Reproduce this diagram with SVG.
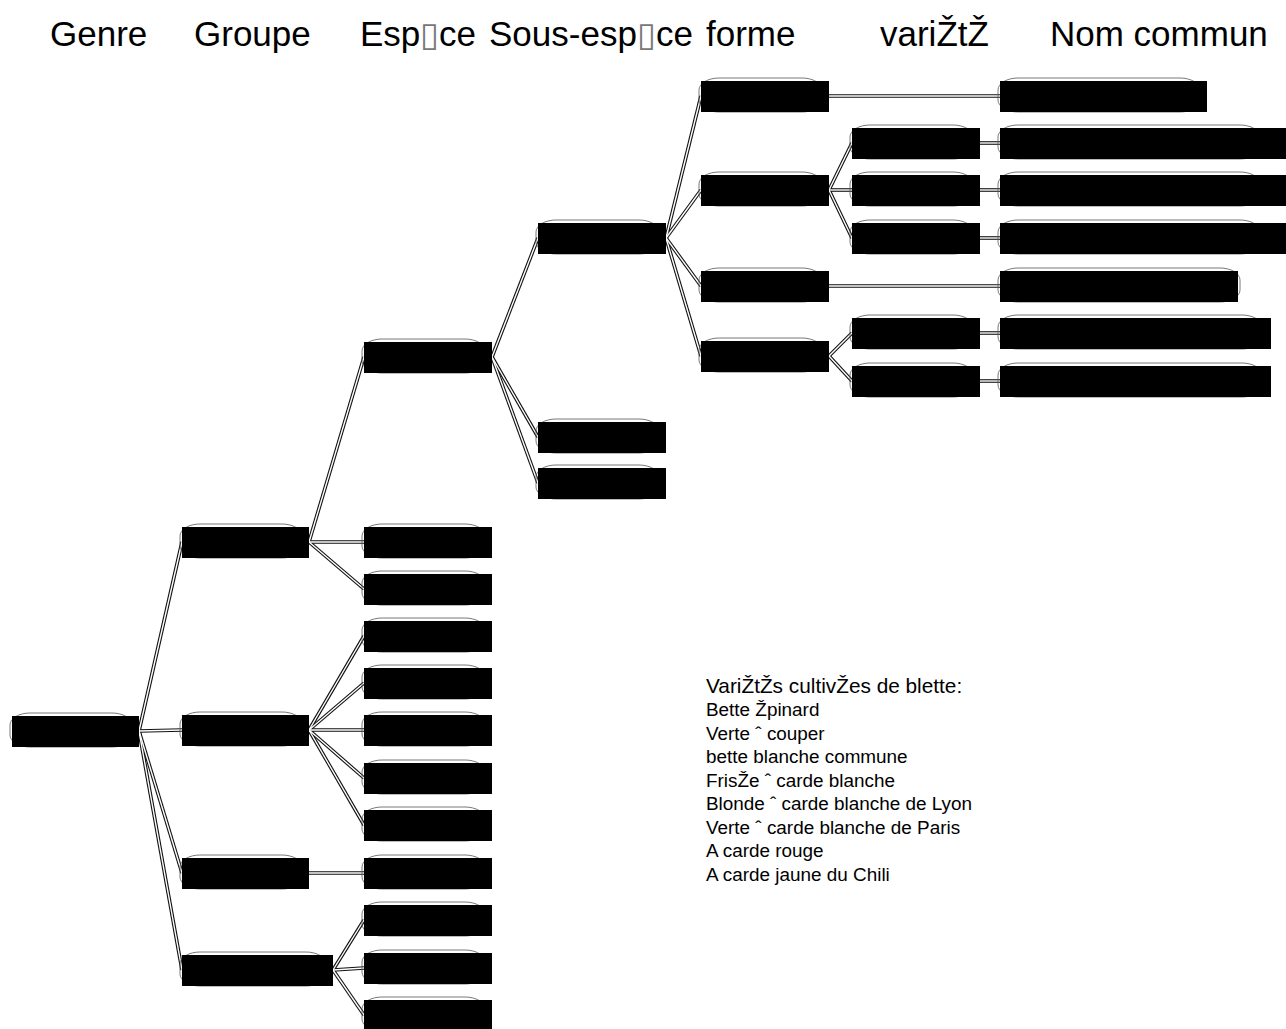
<svg xmlns="http://www.w3.org/2000/svg" xmlns:xlink="http://www.w3.org/1999/xlink" width="1286" height="1029" viewBox="0 0 1286 1029">
<style>
.hd{font-family:"Liberation Sans",Arial,"DejaVu Sans",sans-serif;font-size:35px;fill:#000}
.tofu{font-family:"DejaVu Sans",sans-serif;font-size:34px;fill:#777}
.t1{font-family:"Liberation Sans",Arial,sans-serif;font-size:20.8px;fill:#000}
.t2{font-family:"Liberation Sans",Arial,sans-serif;font-size:18.9px;fill:#000}
.ol{fill:none;stroke:#555;stroke-width:0.8}
.bx{fill:#000}
.co{fill:none;stroke:#111;stroke-width:3.6}
.ci{fill:none;stroke:#fff;stroke-width:1.4}
</style>
<rect width="1286" height="1029" fill="#fff"/>
<g id="header">
<text class="hd" x="50" y="46">Genre</text>
<text class="hd" x="194" y="46">Groupe</text>
<text class="hd" y="46"><tspan x="360">Esp</tspan><tspan class="tofu" x="420">▯</tspan><tspan x="439">ce</tspan></text>
<text class="hd" y="46"><tspan x="489">Sous-esp</tspan><tspan class="tofu" x="637">▯</tspan><tspan x="656">ce</tspan></text>
<text class="hd" x="706" y="46">forme</text>
<text class="hd" x="880" y="46">variŽtŽ</text>
<text class="hd" x="1050" y="46">Nom commun</text>
</g>
<defs>
<path id="c1" d="M139,731 L182,542"/>
<path id="c2" d="M139,731 L182,730"/>
<path id="c3" d="M139,731 L182,873"/>
<path id="c4" d="M139,731 L182,970"/>
<path id="c5" d="M309,542 L364,357"/>
<path id="c6" d="M309,542 L364,542"/>
<path id="c7" d="M309,542 L364,589"/>
<path id="c8" d="M309,730 L364,636"/>
<path id="c9" d="M309,730 L364,683"/>
<path id="c10" d="M309,730 L364,730"/>
<path id="c11" d="M309,730 L364,778"/>
<path id="c12" d="M309,730 L364,825"/>
<path id="c13" d="M309,873 L364,873"/>
<path id="c14" d="M333,970 L364,920"/>
<path id="c15" d="M333,970 L364,968"/>
<path id="c16" d="M333,970 L364,1015"/>
<path id="c17" d="M492,357 L538,238"/>
<path id="c18" d="M492,357 L538,437"/>
<path id="c19" d="M492,357 L538,483"/>
<path id="c20" d="M666,238 L701,96"/>
<path id="c21" d="M666,238 L701,190"/>
<path id="c22" d="M666,238 L701,286"/>
<path id="c23" d="M666,238 L701,356"/>
<path id="c24" d="M829,96 L1000,96"/>
<path id="c25" d="M829,190 L852,143"/>
<path id="c26" d="M829,190 L852,190"/>
<path id="c27" d="M829,190 L852,238"/>
<path id="c28" d="M829,286 L1000,286"/>
<path id="c29" d="M829,356 L852,333"/>
<path id="c30" d="M829,356 L852,381"/>
<path id="c31" d="M980,143 L1000,143"/>
<path id="c32" d="M980,190 L1000,190"/>
<path id="c33" d="M980,238 L1000,238"/>
<path id="c34" d="M980,333 L1000,333"/>
<path id="c35" d="M980,381 L1000,381"/>
</defs>
<g id="connectors">
<g class="co">
<use xlink:href="#c1"/><use xlink:href="#c2"/><use xlink:href="#c3"/><use xlink:href="#c4"/><use xlink:href="#c5"/><use xlink:href="#c6"/><use xlink:href="#c7"/><use xlink:href="#c8"/><use xlink:href="#c9"/><use xlink:href="#c10"/><use xlink:href="#c11"/><use xlink:href="#c12"/><use xlink:href="#c13"/><use xlink:href="#c14"/><use xlink:href="#c15"/><use xlink:href="#c16"/><use xlink:href="#c17"/><use xlink:href="#c18"/><use xlink:href="#c19"/><use xlink:href="#c20"/><use xlink:href="#c21"/><use xlink:href="#c22"/><use xlink:href="#c23"/><use xlink:href="#c24"/><use xlink:href="#c25"/><use xlink:href="#c26"/><use xlink:href="#c27"/><use xlink:href="#c28"/><use xlink:href="#c29"/><use xlink:href="#c30"/><use xlink:href="#c31"/><use xlink:href="#c32"/><use xlink:href="#c33"/><use xlink:href="#c34"/><use xlink:href="#c35"/>
</g>
<g class="ci">
<use xlink:href="#c1"/><use xlink:href="#c2"/><use xlink:href="#c3"/><use xlink:href="#c4"/><use xlink:href="#c5"/><use xlink:href="#c6"/><use xlink:href="#c7"/><use xlink:href="#c8"/><use xlink:href="#c9"/><use xlink:href="#c10"/><use xlink:href="#c11"/><use xlink:href="#c12"/><use xlink:href="#c13"/><use xlink:href="#c14"/><use xlink:href="#c15"/><use xlink:href="#c16"/><use xlink:href="#c17"/><use xlink:href="#c18"/><use xlink:href="#c19"/><use xlink:href="#c20"/><use xlink:href="#c21"/><use xlink:href="#c22"/><use xlink:href="#c23"/><use xlink:href="#c24"/><use xlink:href="#c25"/><use xlink:href="#c26"/><use xlink:href="#c27"/><use xlink:href="#c28"/><use xlink:href="#c29"/><use xlink:href="#c30"/><use xlink:href="#c31"/><use xlink:href="#c32"/><use xlink:href="#c33"/><use xlink:href="#c34"/><use xlink:href="#c35"/>
</g>
</g>
<g id="genre"><rect class="ol" x="10" y="713" width="122" height="34" rx="20" ry="12"/><rect class="bx" x="12" y="716" width="127" height="31"/></g>
<g id="groupe1"><rect class="ol" x="180" y="524" width="122" height="34" rx="20" ry="12"/><rect class="bx" x="182" y="527" width="127" height="31"/></g>
<g id="groupe2"><rect class="ol" x="180" y="712" width="122" height="34" rx="20" ry="12"/><rect class="bx" x="182" y="715" width="127" height="31"/></g>
<g id="groupe3"><rect class="ol" x="180" y="855" width="122" height="34" rx="20" ry="12"/><rect class="bx" x="182" y="858" width="127" height="31"/></g>
<g id="groupe4"><rect class="ol" x="180" y="952" width="146" height="34" rx="20" ry="12"/><rect class="bx" x="182" y="955" width="151" height="31"/></g>
<g id="espece1"><rect class="ol" x="362" y="339" width="123" height="34" rx="20" ry="12"/><rect class="bx" x="364" y="342" width="128" height="31"/></g>
<g id="espece2"><rect class="ol" x="362" y="524" width="123" height="34" rx="20" ry="12"/><rect class="bx" x="364" y="527" width="128" height="31"/></g>
<g id="espece3"><rect class="ol" x="362" y="571" width="123" height="34" rx="20" ry="12"/><rect class="bx" x="364" y="574" width="128" height="31"/></g>
<g id="espece4"><rect class="ol" x="362" y="618" width="123" height="34" rx="20" ry="12"/><rect class="bx" x="364" y="621" width="128" height="31"/></g>
<g id="espece5"><rect class="ol" x="362" y="665" width="123" height="34" rx="20" ry="12"/><rect class="bx" x="364" y="668" width="128" height="31"/></g>
<g id="espece6"><rect class="ol" x="362" y="712" width="123" height="34" rx="20" ry="12"/><rect class="bx" x="364" y="715" width="128" height="31"/></g>
<g id="espece7"><rect class="ol" x="362" y="760" width="123" height="34" rx="20" ry="12"/><rect class="bx" x="364" y="763" width="128" height="31"/></g>
<g id="espece8"><rect class="ol" x="362" y="807" width="123" height="34" rx="20" ry="12"/><rect class="bx" x="364" y="810" width="128" height="31"/></g>
<g id="espece9"><rect class="ol" x="362" y="855" width="123" height="34" rx="20" ry="12"/><rect class="bx" x="364" y="858" width="128" height="31"/></g>
<g id="espece10"><rect class="ol" x="362" y="902" width="123" height="34" rx="20" ry="12"/><rect class="bx" x="364" y="905" width="128" height="31"/></g>
<g id="espece11"><rect class="ol" x="362" y="950" width="123" height="34" rx="20" ry="12"/><rect class="bx" x="364" y="953" width="128" height="31"/></g>
<g id="espece12"><rect class="ol" x="362" y="997" width="123" height="34" rx="20" ry="12"/><rect class="bx" x="364" y="1000" width="128" height="31"/></g>
<g id="sousespece1"><rect class="ol" x="536" y="220" width="123" height="34" rx="20" ry="12"/><rect class="bx" x="538" y="223" width="128" height="31"/></g>
<g id="sousespece2"><rect class="ol" x="536" y="419" width="123" height="34" rx="20" ry="12"/><rect class="bx" x="538" y="422" width="128" height="31"/></g>
<g id="sousespece3"><rect class="ol" x="536" y="465" width="123" height="34" rx="20" ry="12"/><rect class="bx" x="538" y="468" width="128" height="31"/></g>
<g id="forme1"><rect class="ol" x="699" y="78" width="123" height="34" rx="20" ry="12"/><rect class="bx" x="701" y="81" width="128" height="31"/></g>
<g id="forme2"><rect class="ol" x="699" y="172" width="123" height="34" rx="20" ry="12"/><rect class="bx" x="701" y="175" width="128" height="31"/></g>
<g id="forme3"><rect class="ol" x="699" y="268" width="123" height="34" rx="20" ry="12"/><rect class="bx" x="701" y="271" width="128" height="31"/></g>
<g id="forme4"><rect class="ol" x="699" y="338" width="123" height="34" rx="20" ry="12"/><rect class="bx" x="701" y="341" width="128" height="31"/></g>
<g id="variete1"><rect class="ol" x="850" y="125" width="123" height="34" rx="20" ry="12"/><rect class="bx" x="852" y="128" width="128" height="31"/></g>
<g id="variete2"><rect class="ol" x="850" y="172" width="123" height="34" rx="20" ry="12"/><rect class="bx" x="852" y="175" width="128" height="31"/></g>
<g id="variete3"><rect class="ol" x="850" y="220" width="123" height="34" rx="20" ry="12"/><rect class="bx" x="852" y="223" width="128" height="31"/></g>
<g id="variete4"><rect class="ol" x="850" y="315" width="123" height="34" rx="20" ry="12"/><rect class="bx" x="852" y="318" width="128" height="31"/></g>
<g id="variete5"><rect class="ol" x="850" y="363" width="123" height="34" rx="20" ry="12"/><rect class="bx" x="852" y="366" width="128" height="31"/></g>
<g id="nom1"><rect class="ol" x="998" y="78" width="202" height="34" rx="20" ry="12"/><rect class="bx" x="1000" y="81" width="207" height="31"/></g>
<g id="nom2"><rect class="ol" x="998" y="125" width="262" height="34" rx="20" ry="12"/><rect class="bx" x="1000" y="128" width="300" height="31"/></g>
<g id="nom3"><rect class="ol" x="998" y="172" width="262" height="34" rx="20" ry="12"/><rect class="bx" x="1000" y="175" width="300" height="31"/></g>
<g id="nom4"><rect class="ol" x="998" y="220" width="262" height="34" rx="20" ry="12"/><rect class="bx" x="1000" y="223" width="300" height="31"/></g>
<g id="nom5"><rect class="ol" x="998" y="268" width="242" height="34" rx="20" ry="12"/><rect class="bx" x="1000" y="271" width="238" height="31"/></g>
<g id="nom6"><rect class="ol" x="998" y="315" width="264" height="34" rx="20" ry="12"/><rect class="bx" x="1000" y="318" width="271" height="31"/></g>
<g id="nom7"><rect class="ol" x="998" y="363" width="264" height="34" rx="20" ry="12"/><rect class="bx" x="1000" y="366" width="271" height="31"/></g>
<g id="note">
<text class="t1" x="706" y="693">VariŽtŽs cultivŽes de blette:</text>
<text class="t2" x="706" y="716">Bette Žpinard</text>
<text class="t2" x="706" y="740">Verte ˆ couper</text>
<text class="t2" x="706" y="763">bette blanche commune</text>
<text class="t2" x="706" y="787">FrisŽe ˆ carde blanche</text>
<text class="t2" x="706" y="810">Blonde ˆ carde blanche de Lyon</text>
<text class="t2" x="706" y="834">Verte ˆ carde blanche de Paris</text>
<text class="t2" x="706" y="857">A carde rouge</text>
<text class="t2" x="706" y="881">A carde jaune du Chili</text>
</g>
</svg>
